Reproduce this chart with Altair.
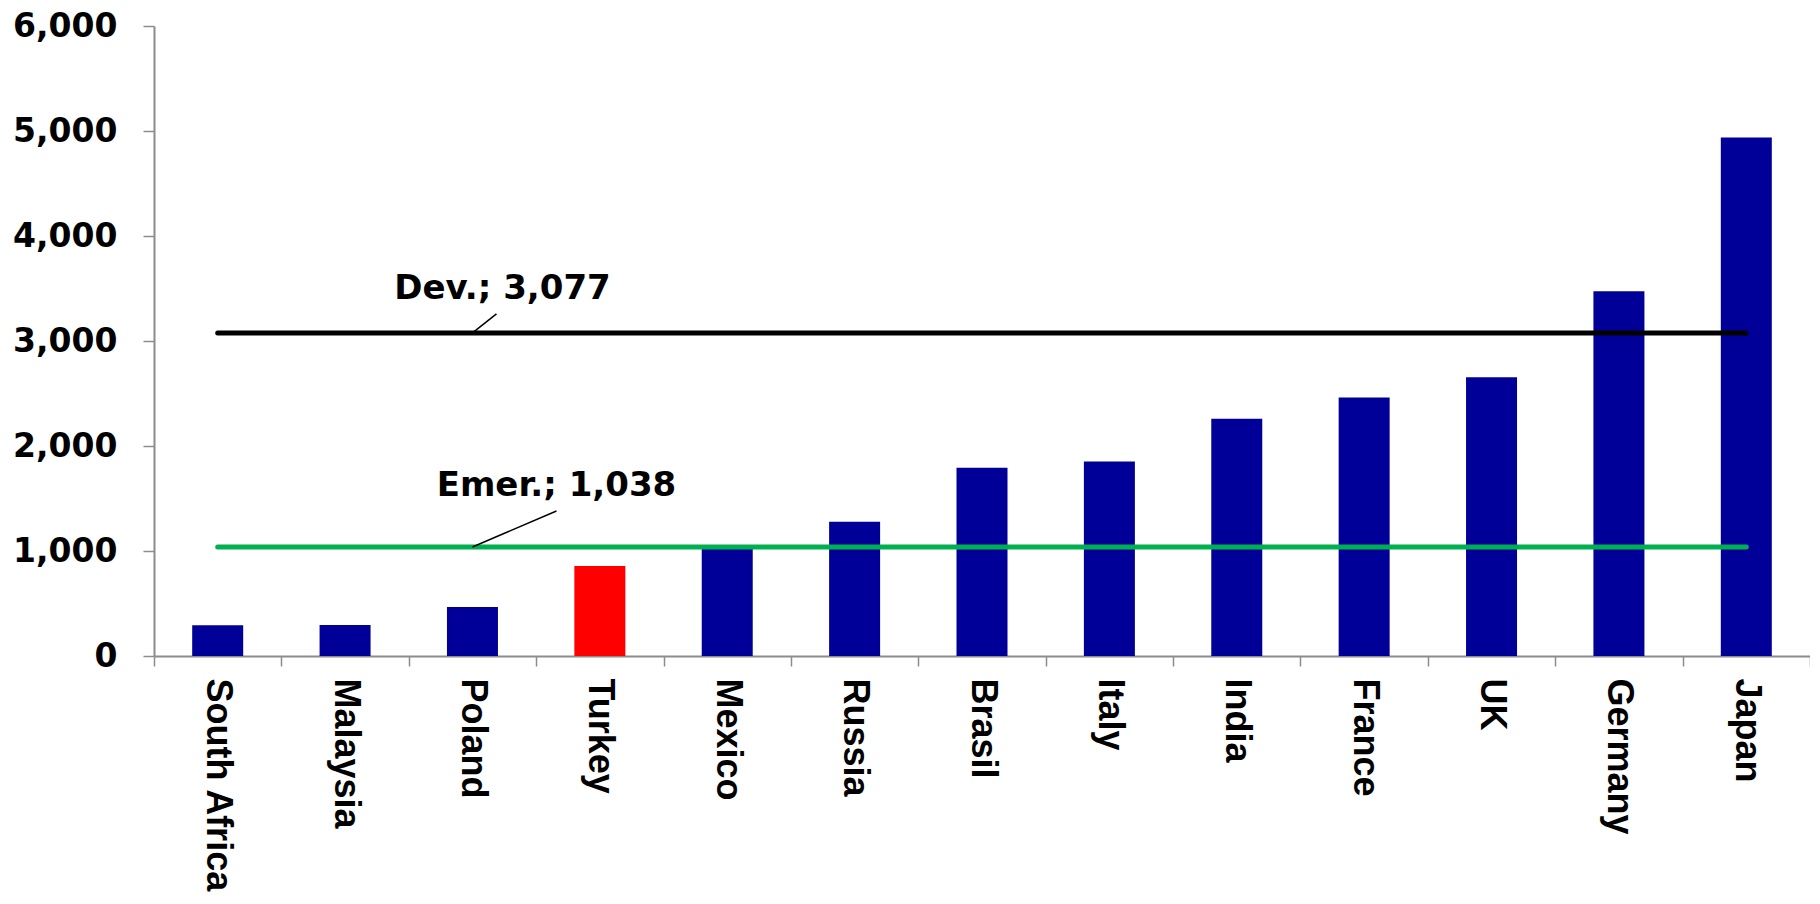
import altair as alt
import pandas as pd

# ---- data ----
countries = ["South Africa", "Malaysia", "Poland", "Turkey", "Mexico", "Russia",
             "Brasil", "Italy", "India", "France", "UK", "Germany", "Japan"]
values = [292, 295, 466, 858, 1030, 1278, 1794, 1852, 2260, 2463, 2655, 3473, 4939]
highlight = "Turkey"

ref_names = ["Dev.", "Emer."]
ref_values = [3077, 1038]
ref_colors = ["#000000", "#00B050"]
ref_labels = ["Dev.; 3,077", "Emer.; 1,038"]

y_ticks = [0, 1000, 2000, 3000, 4000, 5000, 6000]

# ---- layout ----
W, H = 1656, 630
Y_MAX = 6000
step = W / len(countries)
BAR = "#000099"
AXIS = "#8C8C8C"

bars_df = pd.DataFrame({
    "country": countries,
    "value": values,
    "color": ["#FF0000" if c == highlight else BAR for c in countries],
})

x_enc = alt.X("country:N", sort=countries,
              scale=alt.Scale(domain=countries, paddingInner=0, paddingOuter=0),
              axis=alt.Axis(title=None, labelAngle=90, labelAlign="left", labelBaseline="middle",
                            labelFont="Liberation Sans", labelFontWeight="bold", labelFontSize=36,
                            labelColor="#000000", labelPadding=12, tickBand="extent",
                            tickSize=10, tickColor=AXIS, tickWidth=1.5, labelLimit=0,
                            domainColor=AXIS, domainWidth=2, labelOverlap=False))
y_enc = alt.Y("value:Q", scale=alt.Scale(domain=[0, Y_MAX], nice=False),
              axis=alt.Axis(title=None, values=y_ticks,
                            format=",.0f", grid=False, labelFont="DejaVu Sans",
                            labelFontWeight="bold", labelFontSize=33, labelColor="#000000",
                            labelPadding=26, tickSize=11, tickColor=AXIS, tickWidth=1.5,
                            domainColor=AXIS, domainWidth=2, labelLimit=0))

bars = alt.Chart(bars_df).mark_bar(size=51).encode(
    x=x_enc, y=y_enc, color=alt.Color("color:N", scale=None)
)

layers = [bars]

def ypix(v):
    return H * (1 - v / Y_MAX)

anchor = "Poland"
ax = (countries.index(anchor) + 0.5) * step
text_dx = [30, 84]
text_dy = [-34, -51]
lead_dx = [24, 84]
lead_dy = [-19, -36]

for name, val, col, lab, tdx, tdy, ldx, ldy in zip(ref_names, ref_values, ref_colors, ref_labels,
                                                   text_dx, text_dy, lead_dx, lead_dy):
    ldf = pd.DataFrame({"country": [countries[0], countries[-1]], "value": [val, val]})
    layers.append(alt.Chart(ldf).mark_line(color=col, strokeWidth=5, strokeCap="round").encode(
        x=alt.X("country:N", sort=countries), y=alt.Y("value:Q")))
    tdf = pd.DataFrame({"country": [anchor], "value": [val], "label": [lab]})
    layers.append(alt.Chart(tdf).mark_text(font="DejaVu Sans", fontWeight="bold", fontSize=34,
                                           color="#000000", align="center", baseline="alphabetic",
                                           dx=tdx, dy=tdy).encode(
        x=alt.X("country:N", sort=countries), y=alt.Y("value:Q"), text="label:N"))
    y0 = ypix(val)
    layers.append(alt.Chart(tdf).mark_rule(color="#000000", strokeWidth=1.5).encode(
        x=alt.value(ax), y=alt.value(y0), x2=alt.value(ax + ldx), y2=alt.value(y0 + ldy)))

chart = alt.layer(*layers).properties(
    width=W, height=H,
    autosize=alt.AutoSizeParams(type="none"),
    padding={"left": 146, "top": 18, "right": 0, "bottom": 240},
    background="white",
).configure_view(stroke=None)

chart.save("out.html", embed_options={"renderer": "svg", "actions": False})
